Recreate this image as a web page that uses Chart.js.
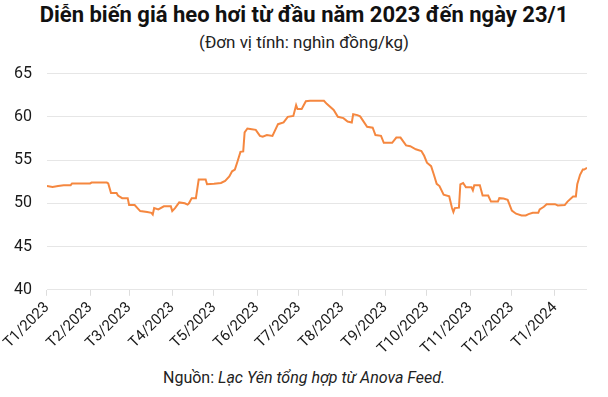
<!DOCTYPE html>
<html>
<head>
<meta charset="utf-8">
<script src="https://cdn.jsdelivr.net/npm/chart.js@4"></script>
<style>
  body { margin: 0; background: #fff; font-family: Roboto, sans-serif; }
  #wrap { position: relative; width: 608px; height: 397px; overflow: hidden; }
  .title { position: absolute; left: 0; right: 0; top: 2px; text-align: center; font-weight: bold; font-size: 22px; line-height: 26px; color: #111; }
  .sub { position: absolute; left: 0; right: 0; top: 32px; text-align: center; font-size: 17px; line-height: 20px; color: #222; }
  .src { position: absolute; left: 0; right: 0; top: 368px; text-align: center; font-size: 16px; line-height: 20px; color: #222; }
  #chart { position: absolute; left: -15px; top: 49px; }
</style>
</head>
<body>
<div id="wrap">
  <div class="title">Diễn biến giá heo hơi từ đầu năm 2023 đến ngày 23/1</div>
  <div class="sub">(Đơn vị tính: nghìn đồng/kg)</div>
  <canvas id="chart" width="623" height="312"></canvas>
  <div class="src">Nguồn: <i>Lạc Yên tổng hợp từ Anova Feed.</i></div>
</div>
<script>
// month labels and their day offset from 1/1/2023
const monthLabels = ["T1/2023", "T2/2023", "T3/2023", "T4/2023", "T5/2023", "T6/2023", "T7/2023",
    "T8/2023", "T9/2023", "T10/2023", "T11/2023", "T12/2023", "T1/2024"];
const monthDays = [0, 31, 59, 90, 120, 151, 181, 212, 243, 273, 304, 334, 365];

// price series: day offset -> price (nghin dong/kg)
const priceDays = [0, 4, 8, 12, 17, 18, 31, 32, 43, 44, 46, 50, 51, 54, 58, 59, 63, 65, 67, 72, 75, 76, 77,
    80, 84, 89, 90, 92, 95, 99, 101, 102, 104, 107, 109, 114, 115, 120, 125, 128, 131, 133, 135, 137, 139,
    141, 142, 144, 146, 150, 153, 155, 158, 162, 166, 170, 173, 177, 179, 180, 183, 186, 189, 199, 201,
    206, 209, 213, 216, 219, 220, 223, 225, 230, 234, 236, 240, 242, 248, 251, 254, 258, 261, 265, 269,
    271, 273, 276, 278, 280, 282, 285, 289, 291, 292, 293, 296, 297, 299, 301, 305, 306, 307, 311, 313,
    317, 319, 324, 325, 328, 331, 334, 337, 341, 344, 346, 349, 353, 354, 357, 359, 365, 367, 372, 374,
    378, 380, 381, 383, 385, 386, 388];
const priceValues = [52.0, 51.9, 52.0, 52.1, 52.1, 52.3, 52.3, 52.4, 52.4, 52.3, 51.2, 51.2, 50.9, 50.6, 50.6,
    49.8, 49.8, 49.45, 49.1, 49.0, 48.9, 48.7, 49.45, 49.3, 49.65, 49.65, 49.1, 49.45, 50.1, 50.0, 49.85,
    50.0, 50.6, 50.6, 52.75, 52.75, 52.2, 52.25, 52.35, 52.6, 53.1, 53.7, 53.9, 54.9, 55.95, 56.0, 58.2,
    58.65, 58.6, 58.5, 57.8, 57.7, 57.9, 57.8, 59.15, 59.35, 60.0, 60.1, 61.35, 60.9, 60.9, 61.8, 61.86,
    61.86, 61.5, 60.8, 60.0, 59.85, 59.45, 59.35, 60.3, 60.2, 60.05, 58.85, 58.75, 57.9, 57.8, 57.0, 57.0,
    57.6, 57.6, 56.7, 56.6, 56.25, 56.05, 55.5, 54.7, 54.3, 53.3, 52.25, 52.0, 51.0, 50.8, 49.45, 49.0,
    49.45, 49.5, 52.2, 52.35, 51.85, 51.85, 51.5, 52.1, 52.1, 50.9, 50.9, 50.2, 50.2, 50.6, 50.55, 50.4,
    49.15, 48.8, 48.6, 48.6, 48.75, 48.9, 48.9, 49.3, 49.6, 49.9, 49.9, 49.75, 49.8, 50.2, 50.8, 50.8,
    52.2, 53.3, 53.9, 53.9, 54.1];

const yTicks = [40, 45, 50, 55, 60, 65];

const ctx = document.getElementById("chart").getContext("2d");
new Chart(ctx, {
    type: "line",
    data: {
        datasets: [{
            data: priceDays.map((d, i) => ({ x: d, y: priceValues[i] })),
            borderColor: "#f5873f",
            borderWidth: 2,
            pointRadius: 0,
            tension: 0
        }]
    },
    options: {
        responsive: false,
        animation: false,
        layout: { padding: { top: 6, right: 21, left: 14, bottom: 0 } },
        plugins: { legend: { display: false }, tooltip: { enabled: false } },
        scales: {
            x: {
                type: "linear",
                min: 0,
                max: 388,
                afterBuildTicks: (axis) => { axis.ticks = monthDays.map(v => ({ value: v })); },
                afterFit: (axis) => { axis.paddingLeft = 0; },
                ticks: {
                    autoSkip: false,
                    minRotation: 45,
                    maxRotation: 45,
                    color: "#1a1a1a",
                    font: { family: "Roboto", size: 15 },
                    callback: (v) => monthLabels[monthDays.indexOf(v)]
                },
                grid: { drawOnChartArea: false, color: "#ddd", tickLength: 6 },
                border: { display: false }
            },
            y: {
                min: 40,
                max: 65,
                afterBuildTicks: (axis) => { axis.ticks = yTicks.map(v => ({ value: v })); },
                ticks: { color: "#1a1a1a", padding: 15, font: { family: "Roboto", size: 16 } },
                grid: { color: "#e6e6e6", drawTicks: false },
                border: { display: false }
            }
        }
    }
});
</script>
</body>
</html>
